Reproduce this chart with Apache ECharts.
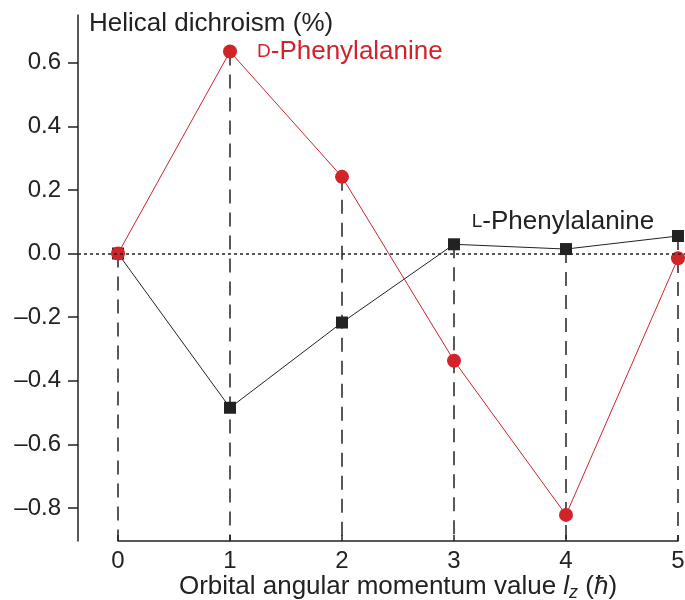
<!DOCTYPE html>
<html>
<head>
<meta charset="utf-8">
<script src="https://cdn.jsdelivr.net/npm/echarts@6/dist/echarts.min.js"></script>
<style>
  html, body { margin: 0; padding: 0; background: #fff; }
  #chart { width: 685px; height: 600px; }
</style>
</head>
<body>
<div id="chart"></div>
<script>
// orbital angular momentum values
const xValues = [0, 1, 2, 3, 4, 5];
// helical dichroism (%)
const dValues = [0.0, 0.635, 0.241, -0.337, -0.822, -0.015];
const lValues = [0.0, -0.485, -0.217, 0.029, 0.014, 0.055];
const yTickValues = [-0.8, -0.6, -0.4, -0.2, 0, 0.2, 0.4, 0.6];
const yMin = -0.904;
const yMax = 0.75;

const RED = "#d1232a";
const INK = "#222";
const FONT = "Liberation Sans";

const chart = echarts.init(document.getElementById("chart"));

// top of each dashed guide = highest point at that x
const guides = xValues.map(function (x, i) {
  return [x, Math.max(dValues[i], lValues[i])];
});

const option = {
  animation: false,
  textStyle: { fontFamily: FONT, color: INK },
  title: {
    text: "Helical dichroism (%)",
    left: 84,
    top: 6,
    textStyle: { fontFamily: FONT, fontSize: 26, fontWeight: "normal", color: INK }
  },
  grid: [
    { left: 78, right: 0, top: 15, bottom: 59, outerBoundsMode: "none" },
    { left: 118, right: 7, top: 15, bottom: 59, outerBoundsMode: "none" }
  ],
  xAxis: [
    {
      gridIndex: 0,
      type: "value",
      min: -40 / 112,
      max: 5 + 7 / 112,
      show: false
    },
    {
      gridIndex: 1,
      type: "value",
      min: 0,
      max: 5,
      interval: 1,
      axisLine: { onZero: false, lineStyle: { color: INK, width: 1.5 } },
      axisTick: { inside: true, length: 6, lineStyle: { color: INK, width: 1.5 } },
      axisLabel: { fontSize: 24, color: INK, margin: 8, fontFamily: FONT },
      splitLine: { show: false },
      name: "{n|Orbital angular momentum value }{i|l}{sub|z}{n| (}{i|ħ}{n|)}",
      nameLocation: "middle",
      nameGap: 31,
      nameMoveOverlap: false,
      nameTextStyle: {
        fontFamily: FONT,
        rich: {
          n: { fontSize: 26, color: INK, fontFamily: FONT },
          i: { fontSize: 26, color: INK, fontStyle: "italic", fontFamily: FONT },
          sub: { fontSize: 18, color: INK, fontStyle: "italic", fontFamily: FONT, padding: [12, 0, 0, 0] }
        }
      }
    }
  ],
  yAxis: [
    {
      gridIndex: 0,
      type: "value",
      min: yMin,
      max: yMax,
      axisLine: { show: true, onZero: false, lineStyle: { color: INK, width: 1.5 } },
      axisTick: {
        show: true,
        length: 10,
        customValues: yTickValues,
        lineStyle: { color: INK, width: 1.5 }
      },
      axisLabel: {
        customValues: yTickValues,
        fontSize: 24,
        color: INK,
        margin: 17,
        fontFamily: FONT,
        formatter: function (v) {
          return v.toFixed(1).replace("-", "\u2013");
        }
      },
      splitLine: { show: false }
    },
    {
      gridIndex: 1,
      type: "value",
      min: yMin,
      max: yMax,
      show: false
    }
  ],
  series: [
    {
      type: "custom",
      xAxisIndex: 0,
      yAxisIndex: 0,
      silent: true,
      z: 1,
      data: guides,
      renderItem: function (params, api) {
        const top = api.coord([api.value(0), api.value(1)]);
        const bottom = api.coord([api.value(0), yMin]);
        return {
          type: "line",
          shape: { x1: top[0], y1: top[1], x2: bottom[0], y2: bottom[1] },
          style: { stroke: INK, lineWidth: 1.5, lineDash: [14, 9] }
        };
      }
    },
    {
      name: "L-Phenylalanine",
      type: "line",
      xAxisIndex: 0,
      yAxisIndex: 0,
      z: 3,
      symbol: "rect",
      symbolSize: 12,
      itemStyle: { color: INK },
      lineStyle: { color: INK, width: 1 },
      data: xValues.map(function (x, i) {
        const item = { value: [x, lValues[i]] };
        if (i === 4) {
          item.label = {
            show: true,
            position: "top",
            distance: 8,
            offset: [-3, 0],
            formatter: "{sc|L}{n|-Phenylalanine}",
            rich: {
              sc: { fontSize: 19, color: INK, fontFamily: FONT },
              n: { fontSize: 26, color: INK, fontFamily: FONT }
            }
          };
        }
        return item;
      }),
      markLine: {
        silent: true,
        symbol: "none",
        label: { show: false },
        lineStyle: { color: INK, type: [3, 3], width: 1.5 },
        data: [{ yAxis: 0 }]
      }
    },
    {
      name: "D-Phenylalanine",
      type: "line",
      xAxisIndex: 0,
      yAxisIndex: 0,
      z: 4,
      symbol: "circle",
      symbolSize: 14,
      itemStyle: { color: RED },
      lineStyle: { color: RED, width: 1 },
      data: xValues.map(function (x, i) {
        const item = { value: [x, dValues[i]] };
        if (i === 1) {
          item.label = {
            show: true,
            position: "right",
            distance: 20,
            formatter: "{sc|D}{n|-Phenylalanine}",
            rich: {
              sc: { fontSize: 19, color: RED, fontFamily: FONT },
              n: { fontSize: 26, color: RED, fontFamily: FONT }
            }
          };
        }
        return item;
      })
    }
  ]
};

chart.setOption(option);
</script>
</body>
</html>
